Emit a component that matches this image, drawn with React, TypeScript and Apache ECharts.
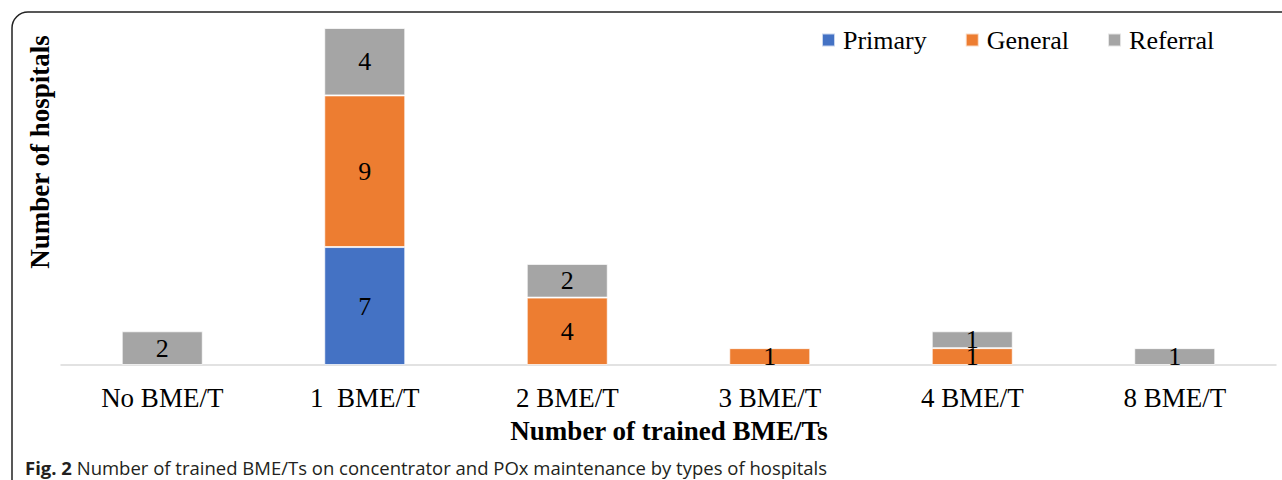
import React, { useEffect, useRef } from "react";
import * as echarts from "echarts";

const categories = ["No BME/T", "1  BME/T", "2 BME/T", "3 BME/T", "4 BME/T", "8 BME/T"];
const primary = [0, 7, 0, 0, 0, 0];
const general = [0, 9, 4, 1, 1, 0];
const referral = [2, 4, 2, 0, 1, 1];
const seriesNames = ["Primary", "General", "Referral"];
const colors = ["#4472C4", "#ED7D31", "#A5A5A5"];

const serif = "'Liberation Serif', 'Times New Roman', serif";

export default function App() {
  const ref = useRef<HTMLDivElement>(null);
  useEffect(() => {
    if (!ref.current) return;
    const chart = echarts.init(ref.current, null, { renderer: "svg" });
    const mk = (name: string, data: number[], color: string) => ({
      name,
      type: "bar",
      stack: "total",
      barWidth: "40%",
      data: data.map((v) => (v === 0 ? null : v)),
      itemStyle: { color, borderColor: "rgba(255,255,255,0.7)", borderWidth: 1 },
      label: {
        show: true,
        position: "inside",
        color: "#000",
        fontFamily: serif,
        fontSize: 26,
      },
    });
    chart.setOption({
      animation: false,
      grid: { left: 61, right: 6, top: 28, bottom: 115, containLabel: false },
      legend: {
        left: 821,
        top: 27,
        padding: 0,
        itemWidth: 13,
        itemHeight: 13,
        itemGap: 38,
        icon: "rect",
        data: seriesNames,
        textStyle: { fontFamily: serif, fontSize: 26, color: "#000", padding: [0, 0, 0, 3] },
      },
      xAxis: {
        type: "category",
        data: categories,
        axisLine: { lineStyle: { color: "#D9D9D9", width: 1.5 } },
        axisTick: { show: false },
        axisLabel: { fontFamily: serif, fontSize: 27, color: "#000", margin: 19 },
      },
      yAxis: { type: "value", min: 0, max: 20, show: false, splitLine: { show: false } },
      series: [
        mk(seriesNames[0], primary, colors[0]),
        mk(seriesNames[1], general, colors[1]),
        mk(seriesNames[2], referral, colors[2]),
      ],
      graphic: [
        {
          type: "rect",
          shape: { x: 12, y: 12, width: 1500, height: 700, r: 16 },
          style: { fill: "none", stroke: "#222", lineWidth: 1.5 },
          silent: true,
        },
        {
          type: "text",
          x: 40,
          y: 152,
          rotation: Math.PI / 2,
          style: {
            text: "Number of hospitals",
            fontFamily: serif,
            fontWeight: "bold",
            fontSize: 27,
            fill: "#000",
            align: "center",
            verticalAlign: "middle",
          },
        },
        {
          type: "text",
          x: 669,
          y: 431,
          style: {
            text: "Number of trained BME/Ts",
            fontFamily: serif,
            fontWeight: "bold",
            fontSize: 27,
            fill: "#000",
            align: "center",
            verticalAlign: "middle",
          },
        },
        {
          type: "text",
          x: 25,
          y: 467,
          style: {
            text: "{b|Fig. 2} Number of trained BME/Ts on concentrator and POx maintenance by types of hospitals",
            fontFamily: "'Open Sans', sans-serif",
            fontSize: 18.5,
            fill: "#231F20",
            verticalAlign: "middle",
            rich: {
              b: { fontFamily: "'Open Sans', sans-serif", fontSize: 18.5, fontWeight: "bold", fill: "#231F20" },
            },
          },
        },
      ],
    });
    return () => chart.dispose();
  }, []);
  return (
    <div
      ref={ref}
      style={{ position: "fixed", left: 0, top: 0, width: 1282, height: 480, background: "#fff" }}
    />
  );
}
